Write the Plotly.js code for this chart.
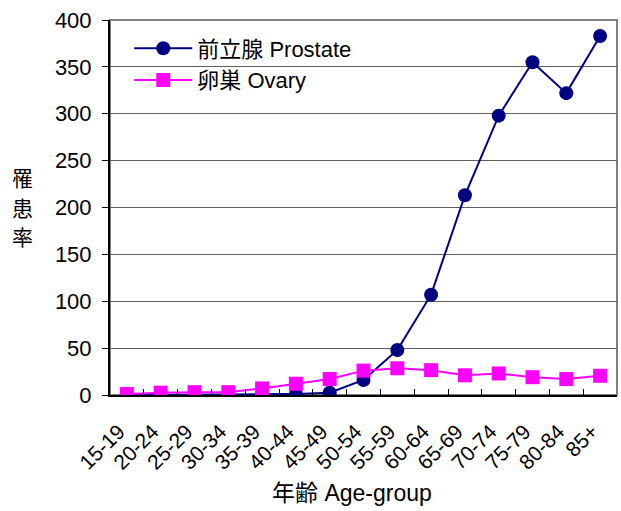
<!DOCTYPE html>
<html>
<head>
<meta charset="utf-8">
<script src="https://cdn.plot.ly/plotly-3.0.1.min.js"></script>
<style>html,body{margin:0;padding:0;background:#fff;}#chart{width:621px;height:511px;}</style>
</head>
<body>
<div id="chart"></div>
<script>
const ageGroups = ["15-19","20-24","25-29","30-34","35-39","40-44","45-49","50-54","55-59","60-64","65-69","70-74","75-79","80-84","85+"];
const prostate = [0, 0, 0, 0.5, 1, 1, 2.5, 16, 48, 107, 213, 298, 355, 322, 383];
const ovary = [1, 2.5, 3, 3, 7, 12, 17, 26, 28.5, 26.5, 21, 23, 19, 17, 20.5];
const prostateName = "前立腺 Prostate";
const ovaryName = "卵巣 Ovary";
const yTitleChars = ["罹","患","率"];
const xTitle = "年齢 Age-group";

const FONT = "'Liberation Sans', Arial, 'Noto Sans CJK JP', sans-serif";

const traces = [
  {x: ageGroups, y: prostate, name: prostateName, type: "scatter", mode: "lines+markers",
   line: {color: "#000080", width: 2}, marker: {symbol: "circle", size: 14, color: "#000080"}},
  {x: ageGroups, y: ovary, name: ovaryName, type: "scatter", mode: "lines+markers",
   line: {color: "#ff00ff", width: 2}, marker: {symbol: "square", size: 14, color: "#ff00ff"}}
];

const annotations = yTitleChars.map((c, i) => ({
  text: c, xref: "paper", yref: "paper", x: (22 - 110) / 507, y: (395 - (178 + i * 30)) / 375,
  showarrow: false, font: {family: FONT, size: 21, color: "#000"}, xanchor: "center", yanchor: "middle"
}));
annotations.push({
  text: xTitle, xref: "paper", yref: "paper", x: (352 - 110) / 507, y: (395 - 493) / 375,
  showarrow: false, font: {family: FONT, size: 23, color: "#000"}, xanchor: "center", yanchor: "middle"
});

const layout = {
  width: 621, height: 511,
  margin: {l: 110, r: 4, t: 20, b: 116},
  paper_bgcolor: "#fff", plot_bgcolor: "#fff",
  font: {family: FONT, size: 21, color: "#000"},
  showlegend: true,
  legend: {x: 0.038, y: 0.98, xanchor: "left", yanchor: "top", bgcolor: "rgba(0,0,0,0)",
           itemwidth: 58, tracegroupgap: 0,
           font: {family: FONT, size: 22, color: "#000"}},
  xaxis: {type: "category", tickangle: -45, tickson: "boundaries", ticks: "inside", ticklen: 6,
          tickcolor: "#000", showline: true, linecolor: "#000", linewidth: 2, showgrid: false,
          ticklabelstandoff: 14, ticklabelshift: -8,
          tickfont: {family: FONT, size: 21}, range: [-0.5, 14.5]},
  yaxis: {range: [0, 400], dtick: 50, ticks: "outside", ticklen: 6, tickcolor: "#000",
          showline: true, linecolor: "#000", linewidth: 2, showgrid: true, gridcolor: "#606060",
          gridwidth: 1, zeroline: false, ticklabelstandoff: 6,
          tickfont: {family: FONT, size: 22}, fixedrange: true},
  shapes: [{type: "rect", xref: "paper", yref: "paper", x0: 0, x1: 1, y0: 0, y1: 1,
            line: {color: "#808080", width: 2}, layer: "below"}],
  annotations: annotations
};

Plotly.newPlot("chart", traces, layout, {displayModeBar: false, staticPlot: true});
</script>
</body>
</html>
